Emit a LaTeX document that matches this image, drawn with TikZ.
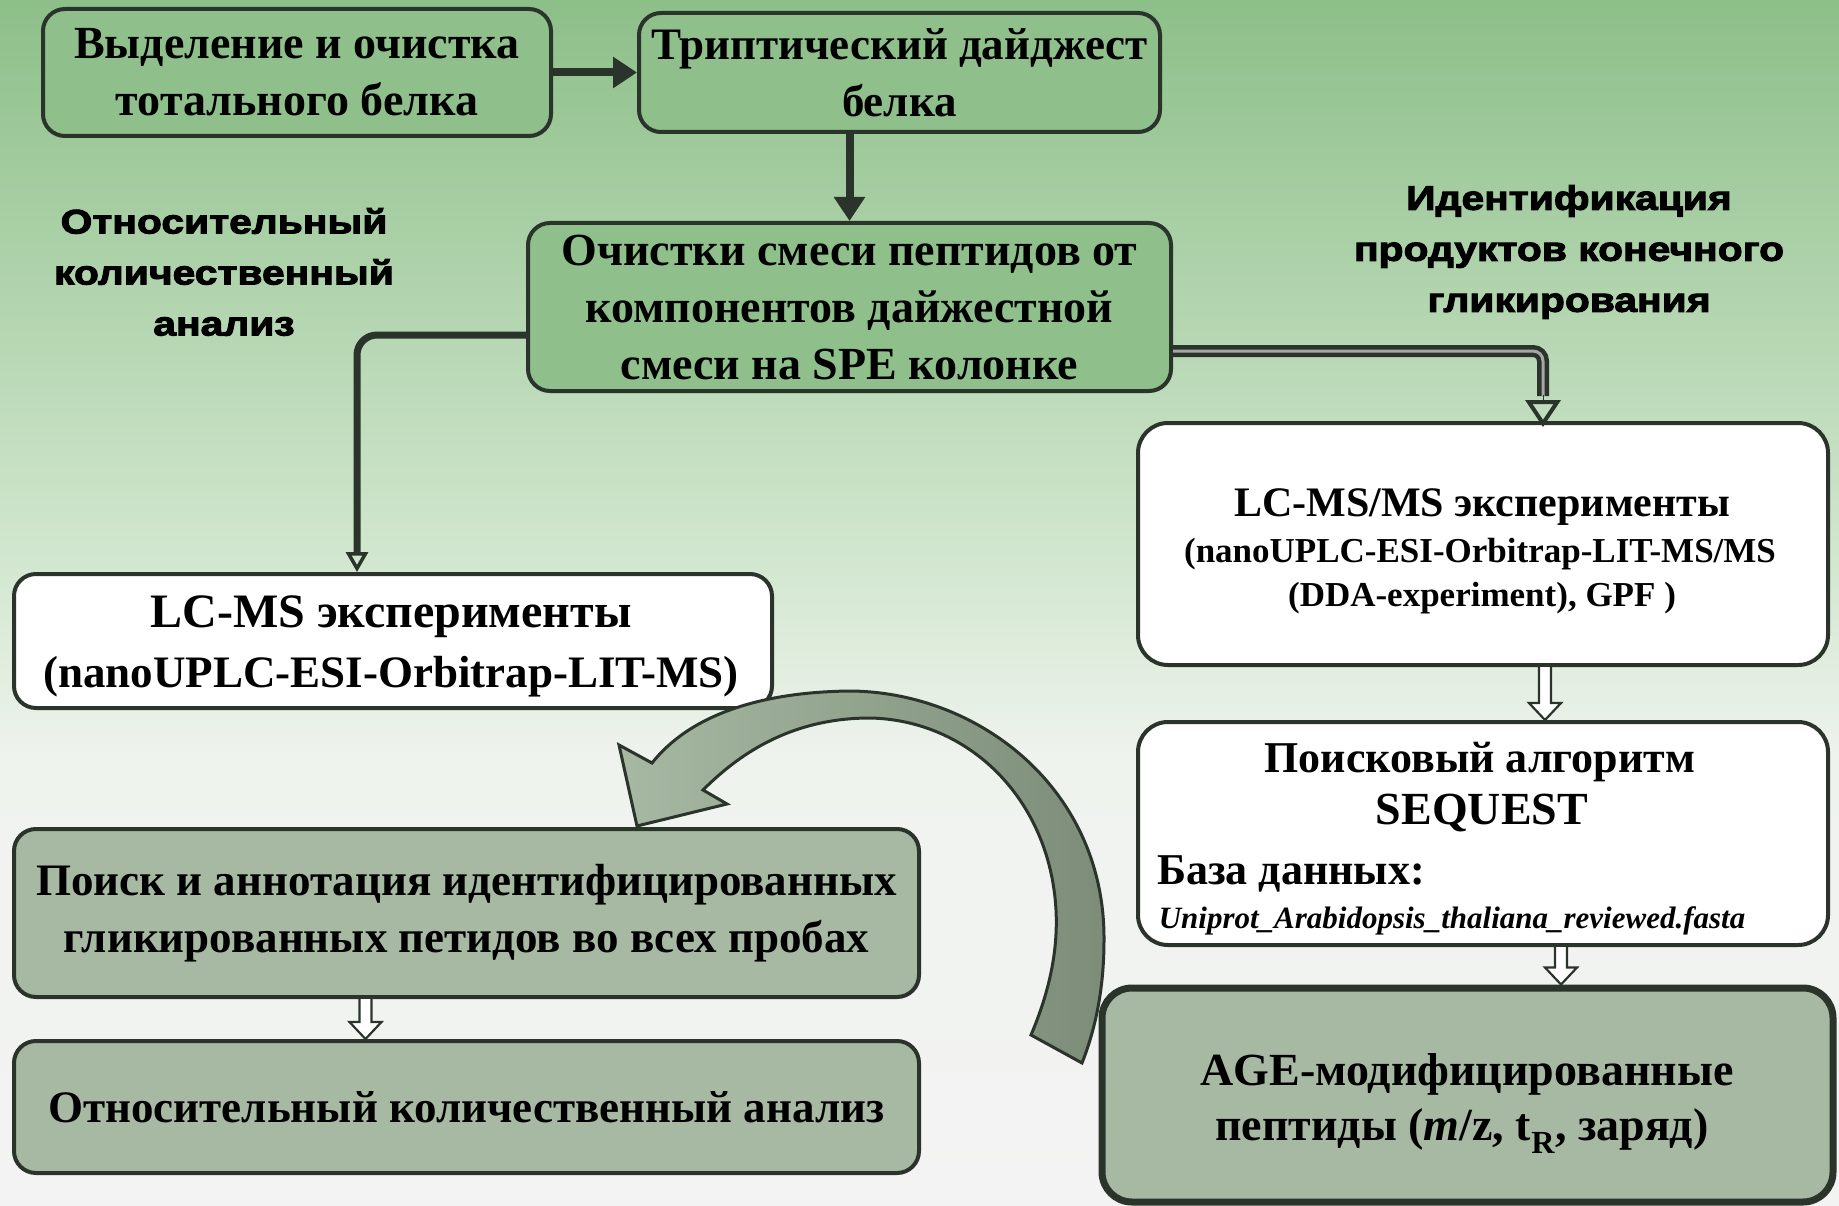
\documentclass[tikz,border=0pt]{standalone}
\usepackage{fontspec}
\setmainfont{Liberation Serif}
\newfontfamily\labelfont{Liberation Sans}[FakeStretch=1.2,FakeBold=3]
\usetikzlibrary{arrows.meta,calc}

\definecolor{lc}{HTML}{2B342B}
\definecolor{boxgreen}{HTML}{8FBF8B}
\definecolor{boxgrey}{HTML}{A7B9A3}
\definecolor{arrowgrey}{HTML}{92A58E}
\definecolor{bgtop}{HTML}{8DBF89}
\definecolor{bgmid}{HTML}{D2E7CF}
\definecolor{bglow}{HTML}{EFF3EE}
\definecolor{bgbottom}{HTML}{F3F3F3}

\newcommand\fbig{\fontsize{46}{57}\selectfont\bfseries}
\newcommand\fmed{\fontsize{45}{57}\selectfont\bfseries}
\newcommand\fsrch{\fontsize{44}{52}\selectfont\bfseries}
\newcommand\fms{\fontsize{48}{60}\selectfont\bfseries}
\newcommand\fsub{\fontsize{35}{46}\selectfont\bfseries}
\newcommand\flab{\fontsize{34}{51}\selectfont}

% hollow block arrow pointing down from #1 to the height of #2
\newcommand\hollowarrow[2]{%
  \draw[line width=2.2pt, draw=lc, fill=white, line join=miter]
    let \p1=(#1), \p2=(#2) in
    (\x1-6pt,\y1) -- (\x1-6pt,\y2+17pt) -- (\x1-16pt,\y2+17pt) -- (\x1,\y2)
    -- (\x1+16pt,\y2+17pt) -- (\x1+6pt,\y2+17pt) -- (\x1+6pt,\y1);}

\tikzset{
  box/.style={draw=lc, line width=4pt, rounded corners=22pt, align=center,
              inner sep=0pt, text=black},
  greenbox/.style={box, fill=boxgreen},
  whitebox/.style={box, fill=white, rounded corners=30pt},
  greybox/.style={box, fill=boxgrey},
  solidarrow/.style={draw=lc, line width=8pt, -{Triangle[length=24pt,width=30pt]}},
  openarrow/.style={draw=lc, line width=7pt, rounded corners=20pt,
                    -{Triangle[open,length=20pt,width=22pt,line width=3.5pt]}},
  dbline/.style={draw=lc, line width=4.5pt, double=gray!70, double distance=3pt},
  label/.style={font=\labelfont\bfseries\flab, align=center, text=black},
}

\begin{document}
\begin{tikzpicture}[x=1pt,y=-1pt]
\useasboundingbox (0,0) rectangle (1839,1206);
% background
\shade[top color=bgtop, bottom color=bgmid] (0,0) rectangle (1839,561);
\shade[top color=bgmid, bottom color=bglow] (0,560) rectangle (1839,761);
\shade[top color=bglow, bottom color=bgbottom] (0,760) rectangle (1839,1206);

% top chain
\node[greenbox, minimum width=508pt, minimum height=127pt, font=\fbig] (b1) at (297,72.5)
  {Выделение и очистка\\тотального белка};
\node[greenbox, minimum width=521pt, minimum height=119pt, font=\fmed] (b2) at (899.5,72.5)
  {Триптический дайджест\\белка};
\node[greenbox, minimum width=643pt, minimum height=168pt, font=\fbig] (b3) at (849.5,307)
  {Очистки смеси пептидов от\\компонентов дайжестной\\смеси на SPE колонке};

\draw[solidarrow] (b1.east) -- (b2.west);
\draw[solidarrow] (b2.south -| b3.north) -- (b3.north);

% branch labels
\node[label] (lqa) at (224,272) {Относительный\\количественный\\анализ};
\node[label] (lid) at (1569,252) {Идентификация\\продуктов конечного\\гликирования};

% left branch
\node[whitebox, rounded corners=22pt, minimum width=758pt, minimum height=134pt] (lcms) at (393,641) {};
\node[font=\fms] (lcms1) at (391,617) {LC-MS эксперименты};
\node[font=\fontsize{45}{57}\selectfont\bfseries] (lcms2) at (391,677) {(nanoUPLC-ESI-Orbitrap-LIT-MS)};
\node[greybox, minimum width=905pt, minimum height=168pt, font=\fmed] (poisk) at (466.5,913)
  {Поиск и аннотация идентифицированных\\гликированных петидов во всех пробах};
\node[greybox, minimum width=905pt, minimum height=132pt, font=\fmed] (otn) at (466.5,1107)
  {Относительный количественный анализ};

% right branch
\node[whitebox, minimum width=690pt, minimum height=242pt] (lcmsms) at (1483,544) {};
\node[font=\fontsize{42}{50}\selectfont\bfseries] (m1) at (1482,507) {LC-MS/MS эксперименты};
\node[font=\fsub] (m2) at (1480,554) {(nanoUPLC-ESI-Orbitrap-LIT-MS/MS};
\node[font=\fsub] (m3) at (1482,598) {(DDA-experiment), GPF )};
\node[whitebox, minimum width=690pt, minimum height=223pt] (search) at (1483,833.5) {};
\node[font=\fsrch] (s1) at (1480,762) {Поисковый алгоритм};
\node[font=\fbig] (s2) at (1482,813) {SEQUEST};
\node[font=\fsrch, anchor=west, inner sep=0pt] (s3) at (1157,874) {База данных:};
\node[font=\fontsize{31}{33}\selectfont\bfseries\itshape, inner sep=0pt] (s4) at (1452,921)
  {Uniprot\_Arabidopsis\_thaliana\_reviewed.fasta};
\node[greybox, line width=7pt, rounded corners=30pt, minimum width=731pt, minimum height=214pt] (age) at (1467.5,1095) {};
\node[font=\fbig] (a1) at (1467,1074) {AGE-модифицированные};
\node[font=\fbig] (a2) at (1462,1131) {пептиды (\textit{m}/z, t\textsubscript{R}, заряд)};

% connectors from the SPE step
\draw[openarrow] ([yshift=-28pt]b3.west) -| ([xshift=-36pt]lcms.north);
\draw[dbline, rounded corners=10pt] ([yshift=-44pt]b3.east) -| ([xshift=60pt,yshift=25pt]lcmsms.north);
\draw[draw=lc, -{Triangle[open,length=27pt,width=35pt,line width=4pt]}]
  ([xshift=60pt,yshift=26pt]lcmsms.north) -- ([xshift=60pt,yshift=-6pt]lcmsms.north);

% small hollow arrows
\hollowarrow{[xshift=62pt]lcmsms.south}{search.north}
\hollowarrow{[xshift=78pt]search.south}{age.north}
\hollowarrow{[xshift=-101pt]poisk.south}{otn.north}

% curved return arrow
\shadedraw[left color=boxgrey, right color=arrowgrey!85!black, draw=lc, line width=3pt, line join=miter]
  (652,763) .. controls (690,715) and (760,692) .. (850,691)
  .. controls (980,692) and (1105,790) .. (1104,940)
  .. controls (1104,990) and (1095,1030) .. (1082,1063)
  -- (1031,1035)
  .. controls (1050,990) and (1058,950) .. (1056,910)
  .. controls (1050,800) and (970,720) .. (870,718)
  .. controls (790,718) and (738,755) .. (703,790)
  -- (727,804) -- (637,826) -- (619,745) -- cycle;
\end{tikzpicture}
\end{document}
